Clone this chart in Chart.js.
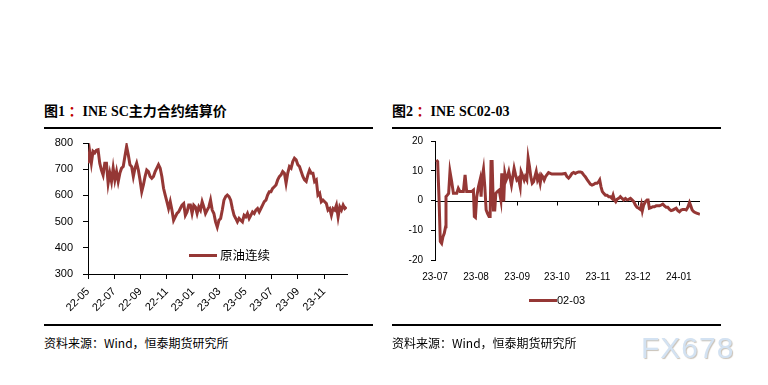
<!DOCTYPE html>
<html>
<head>
<meta charset="utf-8">
<script src="https://cdn.jsdelivr.net/npm/chart.js@4.4.0/dist/chart.umd.min.js"></script>
<style>
    body { margin: 0; width: 768px; height: 385px; background: #fff; position: relative; overflow: hidden; }
    .abs { position: absolute; }
    .title { font: bold 14px "Liberation Serif", "Noto Sans CJK SC", serif; color: #000; white-space: nowrap; line-height: 16px; }
    .title .colon { color: #c00000; }
    .rule { height: 2px; background: #000; }
    .source { font: 12px "Noto Sans CJK SC", sans-serif; color: #000; white-space: nowrap; line-height: 14px; }
    .legend-line { height: 3px; background: #953735; }
    .legend-text { white-space: nowrap; color: #000; }
    .watermark { font: 30px "Liberation Sans", Arial, sans-serif; letter-spacing: 1px; color: #d3e2f2; text-shadow: 1px 1px 1px #c9c2b8; }
</style>
</head>
<body>

<div class="abs title" style="left:44px; top:104px;">图1 <span class="colon">：</span>INE SC主力合约结算价</div>
<div class="abs rule" style="left:44px; top:127px; width:329px;"></div>
<div class="abs title" style="left:392px; top:104px;">图2 <span class="colon">：</span>INE SC02-03</div>
<div class="abs rule" style="left:392px; top:127px; width:329px;"></div>

<canvas id="priceChart" class="abs" width="320" height="190" style="left:40px; top:133px;"></canvas>
<canvas id="spreadChart" class="abs" width="330" height="180" style="left:392px; top:133px;"></canvas>

<div class="abs legend-line" style="left:189px; top:254px; width:28px;"></div>
<div class="abs legend-text" style="left:220px; top:246px; font:12.5px 'Noto Sans CJK SC', sans-serif; line-height:18px;">原油连续</div>
<div class="abs legend-line" style="left:529px; top:299px; width:28px;"></div>
<div class="abs legend-text" style="left:557px; top:293px; font:11px 'Liberation Sans', Arial, sans-serif; line-height:14px;">02-03</div>

<div class="abs rule" style="left:44px; top:324px; width:329px;"></div>
<div class="abs rule" style="left:392px; top:324px; width:329px;"></div>
<div class="abs source" style="left:44px; top:336px;">资料来源：Wind，恒泰期货研究所</div>
<div class="abs source" style="left:392px; top:336px;">资料来源：Wind，恒泰期货研究所</div>
<div class="abs watermark" style="left:641px; top:331px;">FX678</div>

<script>
// Chart 1: INE SC settlement price, one sample every priceStep months from 2022-05
const priceStep = 0.128;
const priceValues = [
    723, 768, 723, 768, 762, 772, 774, 723, 697, 678,
    723, 723, 646, 685, 653, 704, 659, 691, 653, 685,
    704, 710, 749, 787, 755, 717, 710, 672, 704, 723,
    697, 659, 614, 640, 672, 697, 691, 672, 665, 672,
    691, 704, 717, 704, 672, 627, 601, 576, 550, 576,
    544, 505, 518, 531, 537, 550, 563, 569, 524, 537,
    563, 563, 531, 563, 556, 531, 556, 544, 576, 556,
    531, 544, 556, 582, 544, 531, 499, 479, 505, 512,
    544, 582, 595, 601, 595, 582, 550, 524, 512, 499,
    512, 505, 499, 524, 518, 531, 512, 524, 537, 531,
    544, 550, 537, 550, 563, 576, 582, 601, 614, 614,
    627, 633, 640, 659, 672, 678, 691, 685, 646, 685,
    710, 704, 729, 742, 736, 717, 710, 691, 672, 659,
    653, 678, 697, 685, 685, 653, 659, 601, 608, 576,
    582, 576, 569, 544, 550, 524, 550, 544, 563, 518,
    556, 544, 563, 550, 556
];
const priceTickValues = [0, 2, 4, 6, 8, 10, 12, 14, 16, 18];
const priceTickLabels = ['22-05', '22-07', '22-09', '22-11', '23-01', '23-03', '23-05', '23-07', '23-09', '23-11'];

// Chart 2: SC02-03 spread, x in days since 2023-07-01
const spreadDays = [
    1, 2, 3, 4, 5, 6, 7, 8, 8.3, 9.3,
    10.3, 11.3, 12.6, 13.9, 15.1, 16.4, 17.6, 18.9, 20.2, 21.4,
    22.7, 23.9, 25.2, 26.5, 27.7, 29, 29.7, 30.5, 31.5, 32.8,
    34, 34.8, 35.5, 36.6, 37.6, 38.6, 39.6, 40.8, 41.6, 42.3,
    43.1, 44.1, 45.1, 45.9, 47.1, 48.4, 49.7, 50.4, 51.2, 51.9,
    52.7, 53.7, 54.7, 55.7, 56.7, 57.7, 58.7, 59.7, 60.8, 61.8,
    63, 64.3, 65, 66, 67.3, 68.1, 69.3, 70.3, 71.3, 72.3,
    73.4, 74.4, 75.4, 76.4, 77.4, 78.4, 79.4, 80.4, 81.4, 82.4,
    83.4, 84.4, 85.7, 88.2, 90.7, 93.3, 95.8, 98.3, 99.6, 100.8,
    102.1, 103.4, 104.6, 105.9, 107.1, 108.4, 109.7, 110.9, 112.2, 113.4,
    114.7, 116, 117.2, 118.5, 119.7, 121, 122.3, 123.5, 124.3, 125.3,
    126.3, 127.3, 128.6, 129.8, 131.1, 132.3, 133.6, 134.4, 135.4, 136.4,
    137.4, 138.6, 139.9, 141.2, 142.4, 143.7, 144.9, 146.2, 147.5, 148.7,
    150, 151.2, 152.5, 153.8, 155, 155.8, 156.5, 157.5, 158.8, 160.1,
    160.8, 161.8, 163.1, 164.4, 165.6, 166.9, 168.1, 169.4, 170.7, 171.9,
    173.2, 174.5, 175.7, 177, 178.2, 179.5, 180.7, 182, 183.3, 184.5,
    185.8, 187, 188.3, 189.6, 190.8, 192.1, 192.8, 194.1, 195.4, 196.6,
    197.9, 199.1, 199.9
];
const spreadValues = [
    13.6, 13.1, 1.3, -13.8, -14.4, -12.2, -11.0, -8.8, 1.3, 1.8,
    2.4, 9.7, 6.3, 2.4, 2.4, 2.4, 4.1, 3.0, 3.0, 3.0,
    8.6, 3.0, 3.0, 3.0, 3.0, 3.5, -5.4, -5.7, 1.3, 4.6,
    6.9, 1.3, 7.5, 10.5, 4.6, -3.2, -4.3, -5.4, -5.4, 13.1,
    13.1, -3.2, -3.2, 2.4, 3.0, 3.5, 0.2, 9.1, 0.2, 0.2,
    9.1, 6.9, 8.0, 9.7, 7.5, 5.2, 8.0, 10.8, 8.6, 6.9,
    7.5, 4.6, 9.7, 8.6, 6.9, 8.0, 6.9, 14.2, 11.4, 8.0,
    5.8, 6.3, 8.0, 9.7, 6.9, 8.0, 5.8, 8.6, 8.0, 6.9,
    8.0, 8.6, 9.4, 8.9, 8.9, 8.9, 8.9, 9.1, 8.0, 7.5,
    8.2, 9.1, 9.4, 9.1, 9.4, 9.6, 9.6, 9.4, 8.6, 8.0,
    7.1, 6.3, 5.5, 5.2, 5.4, 5.8, 5.8, 6.3, 6.9, 4.6,
    3.0, 2.4, 1.8, 1.8, 1.3, 1.3, 0.7, 1.8, 0.2, -0.4,
    0.4, 0.7, 1.3, 0.7, 0.2, 0.7, 0.2, 0.4, 0.7, 0.2,
    -0.4, -1.5, -2.3, -2.6, -3.0, -1.5, -3.4, -1.5, -0.4, 0.2,
    0.2, -2.6, -2.4, -2.1, -2.1, -1.8, -1.8, -1.8, -1.5, -1.2,
    -1.8, -2.3, -2.3, -3.0, -3.4, -3.2, -2.9, -2.6, -3.4, -3.8,
    -3.2, -3.0, -3.0, -3.2, -2.3, -0.7, -1.5, -3.2, -3.8, -4.1,
    -4.3, -4.5, -4.6
];
const spreadTickValues = [0, 31, 62, 92, 123, 153, 184];
const spreadTickLabels = ['23-07', '23-08', '23-09', '23-10', '23-11', '23-12', '24-01'];

const lineColor = '#953735';

// x axis of chart 2 sits on the zero line
const zeroAxisPlugin = {
    id: 'zeroAxis',
    beforeDatasetsDraw(chart) {
        const { ctx, chartArea, scales } = chart;
        const y0 = Math.round(scales.y.getPixelForValue(0)) + 0.5;
        ctx.save();
        ctx.strokeStyle = '#000';
        ctx.lineWidth = 1;
        ctx.beginPath();
        ctx.moveTo(chartArea.left, y0);
        ctx.lineTo(chartArea.right, y0);
        scales.x.ticks.forEach(t => {
            const x = Math.round(scales.x.getPixelForValue(t.value)) + 0.5;
            ctx.moveTo(x, y0);
            ctx.lineTo(x, y0 + 4);
        });
        ctx.stroke();
        ctx.restore();
    }
};

function renderPriceChart() {
    const ctx = document.getElementById('priceChart').getContext('2d');
    const points = priceValues.map((v, i) => ({ x: i * priceStep, y: v }));

    new Chart(ctx, {
        type: 'line',
        data: {
            datasets: [{
                data: points,
                borderColor: lineColor,
                borderWidth: 3,
                pointRadius: 0,
                tension: 0
            }]
        },
        options: {
            responsive: false,
            animation: false,
            layout: { padding: { top: 10, right: 13, left: 0, bottom: 0 } },
            plugins: { legend: { display: false }, tooltip: { enabled: false } },
            scales: {
                x: {
                    type: 'linear',
                    min: 0,
                    max: 19.75,
                    afterBuildTicks: scale => { scale.ticks = priceTickValues.map(v => ({ value: v })); },
                    afterFit: scale => { scale.height = 49; scale.paddingRight = 0; },
                    grid: { display: true, drawOnChartArea: false, drawTicks: true, tickLength: 5, color: '#000' },
                    border: { display: true, color: '#000' },
                    ticks: {
                        autoSkip: false,
                        minRotation: 45,
                        maxRotation: 45,
                        padding: 6,
                        color: '#000',
                        font: { family: 'Liberation Sans', size: 11 },
                        callback: v => priceTickLabels[priceTickValues.indexOf(v)]
                    }
                },
                y: {
                    min: 300,
                    max: 800,
                    afterFit: scale => { scale.width = 48; scale.paddingTop = 6; scale.paddingBottom = 6; },
                    grid: { display: true, drawOnChartArea: false, drawTicks: true, tickLength: 5, color: '#000' },
                    border: { display: true, color: '#000' },
                    ticks: {
                        stepSize: 100,
                        padding: 10,
                        color: '#000',
                        font: { family: 'Liberation Sans', size: 11 }
                    }
                }
            }
        }
    });
}

function renderSpreadChart() {
    const ctx = document.getElementById('spreadChart').getContext('2d');
    const points = spreadDays.map((d, i) => ({ x: d, y: spreadValues[i] }));

    new Chart(ctx, {
        type: 'line',
        data: {
            datasets: [{
                data: points,
                borderColor: lineColor,
                borderWidth: 3,
                pointRadius: 0,
                tension: 0
            }]
        },
        options: {
            responsive: false,
            animation: false,
            layout: { padding: { top: 8, right: 22, left: 0, bottom: 0 } },
            plugins: { legend: { display: false }, tooltip: { enabled: false } },
            scales: {
                x: {
                    type: 'linear',
                    min: 0,
                    max: 200,
                    afterBuildTicks: scale => { scale.ticks = spreadTickValues.map(v => ({ value: v })); },
                    afterFit: scale => { scale.height = 53; scale.paddingRight = 0; },
                    grid: { display: false, drawTicks: false },
                    border: { display: false },
                    ticks: {
                        autoSkip: false,
                        maxRotation: 0,
                        padding: 11,
                        color: '#000',
                        font: { family: 'Liberation Sans', size: 10 },
                        callback: v => spreadTickLabels[spreadTickValues.indexOf(v)]
                    }
                },
                y: {
                    min: -20,
                    max: 20,
                    afterFit: scale => { scale.width = 43; scale.paddingTop = 6; scale.paddingBottom = 6; },
                    grid: { display: true, drawOnChartArea: false, drawTicks: true, tickLength: 4, color: '#000' },
                    border: { display: true, color: '#000' },
                    ticks: {
                        stepSize: 5,
                        padding: 8,
                        color: '#000',
                        font: { family: 'Liberation Sans', size: 10 }
                    }
                }
            }
        },
        plugins: [zeroAxisPlugin]
    });
}

renderPriceChart();
renderSpreadChart();
</script>
</body>
</html>
